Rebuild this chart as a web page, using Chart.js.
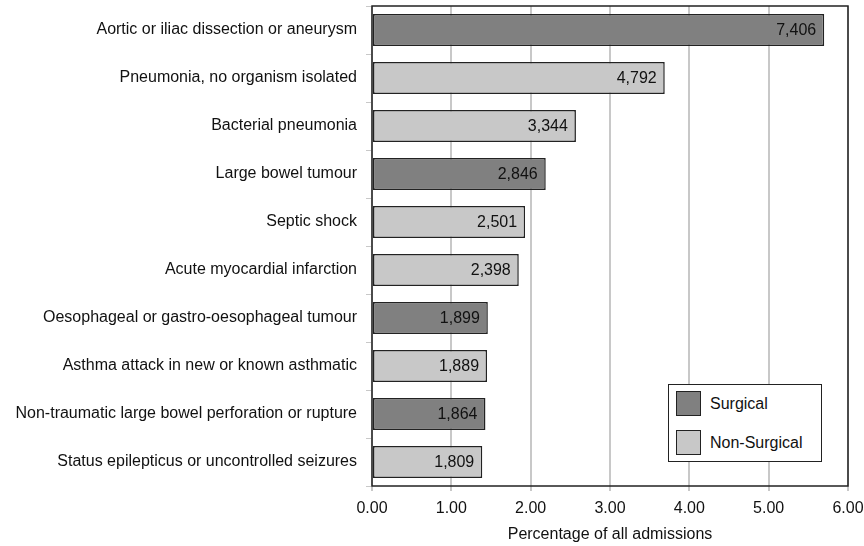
<!DOCTYPE html>
<html>
<head>
<meta charset="utf-8">
<script src="https://cdn.jsdelivr.net/npm/chart.js@4"></script>
<style>
  html, body { margin: 0; padding: 0; background: #fff; }
  #wrap { position: relative; width: 864px; height: 546px; }
  #legend {
    position: absolute; left: 668px; top: 384px; width: 152px; height: 76px;
    border: 1.5px solid #222; background: #fff;
    font: 16px "Liberation Sans", Arial, sans-serif; color: #111;
  }
  #legend .row { position: absolute; left: 7px; height: 25px; line-height: 25px; }
  #legend .sw { display: inline-block; width: 25px; height: 25px; border: 1.5px solid #222;
    vertical-align: top; margin-right: 9px; box-sizing: border-box; }
</style>
</head>
<body>
<div id="wrap">
  <canvas id="c" width="864" height="546"></canvas>
  <div id="legend"></div>
</div>
<script>
/* Top diagnoses: percentage of all admissions, labelled with admission counts. */
var categories = [
  "Aortic or iliac dissection or aneurysm",
  "Pneumonia, no organism isolated",
  "Bacterial pneumonia",
  "Large bowel tumour",
  "Septic shock",
  "Acute myocardial infarction",
  "Oesophageal or gastro-oesophageal tumour",
  "Asthma attack in new or known asthmatic",
  "Non-traumatic large bowel perforation or rupture",
  "Status epilepticus or uncontrolled seizures",
];
var percentages = [5.70, 3.69, 2.57, 2.19, 1.93, 1.85, 1.46, 1.45, 1.43, 1.39];
var admissions = [7406, 4792, 3344, 2846, 2501, 2398, 1899, 1889, 1864, 1809];
var groups = ["Surgical", "Non-Surgical", "Non-Surgical", "Surgical", "Non-Surgical",
  "Non-Surgical", "Surgical", "Non-Surgical", "Surgical", "Non-Surgical"];
var groupNames = ["Surgical", "Non-Surgical"];
var groupColors = ["#808080", "#c8c8c8"];
var xTicks = [0, 1, 2, 3, 4, 5, 6];

var FONT = '"Liberation Sans", Arial, sans-serif';

function seriesFor(name) {
  return percentages.map(function (v, i) {
    return groups[i] === name ? v : null;
  });
}

var datasets = groupNames.map(function (name, k) {
  return {
    label: name,
    data: seriesFor(name),
    backgroundColor: groupColors[k],
    borderColor: "#222222",
    borderWidth: 1.5,
    borderSkipped: false,
    barPercentage: 0.67,
    categoryPercentage: 1.0,
    grouped: false,
  };
});

var valueLabels = {
  id: "valueLabels",
  afterDatasetsDraw: function (chart) {
    var ctx = chart.ctx;
    ctx.save();
    ctx.font = "16px " + FONT;
    ctx.fillStyle = "#111";
    ctx.textAlign = "right";
    ctx.textBaseline = "middle";
    chart.data.datasets.forEach(function (ds, di) {
      var meta = chart.getDatasetMeta(di);
      meta.data.forEach(function (elem, i) {
        if (ds.data[i] == null) return;
        ctx.fillText(admissions[i].toLocaleString("en-US"), elem.x - 8, elem.y + 1);
      });
    });
    ctx.restore();
  },
};

var plotFrame = {
  id: "plotFrame",
  afterDraw: function (chart) {
    var a = chart.chartArea;
    var ctx = chart.ctx;
    ctx.save();
    ctx.strokeStyle = "#222";
    ctx.lineWidth = 1.5;
    ctx.strokeRect(a.left, a.top, a.right - a.left, a.bottom - a.top);
    ctx.restore();
  },
};

new Chart(document.getElementById("c"), {
  type: "bar",
  plugins: [valueLabels, plotFrame],
  data: { labels: categories, datasets: datasets },
  options: {
    indexAxis: "y",
    responsive: false,
    animation: false,
    layout: { padding: { top: 6, right: 16, left: 0, bottom: 0 } },
    plugins: { legend: { display: false }, tooltip: { enabled: false } },
    scales: {
      x: {
        min: 0,
        max: 6,
        afterBuildTicks: function (scale) {
          scale.ticks = xTicks.map(function (v) { return { value: v }; });
        },
        afterFit: function (scale) {
          scale.height = 60;
          scale.paddingLeft = 0;
          scale.paddingRight = 0;
        },
        ticks: {
          color: "#111",
          font: { family: FONT, size: 16 },
          padding: 8,
          callback: function (v) { return Number(v).toFixed(2); },
        },
        grid: { color: "#c8c8c8", lineWidth: 2, tickLength: 5 },
        border: { display: false },
        title: {
          display: true,
          text: "Percentage of all admissions",
          color: "#111",
          font: { family: FONT, size: 16 },
          padding: { top: 4, bottom: 2 },
        },
      },
      y: {
        afterFit: function (scale) {
          scale.width = 372;
          scale.paddingTop = 0;
          scale.paddingBottom = 0;
        },
        ticks: { color: "#111", font: { family: FONT, size: 16 }, padding: 9 },
        grid: { drawOnChartArea: false, color: "#c8c8c8", tickLength: 6 },
        border: { display: false },
      },
    },
  },
});

var legendEl = document.getElementById("legend");
groupNames.forEach(function (name, k) {
  var row = document.createElement("div");
  row.className = "row";
  row.style.top = (6 + k * 39) + "px";
  var sw = document.createElement("span");
  sw.className = "sw";
  sw.style.background = groupColors[k];
  row.appendChild(sw);
  row.appendChild(document.createTextNode(name));
  legendEl.appendChild(row);
});
</script>
</body>
</html>
